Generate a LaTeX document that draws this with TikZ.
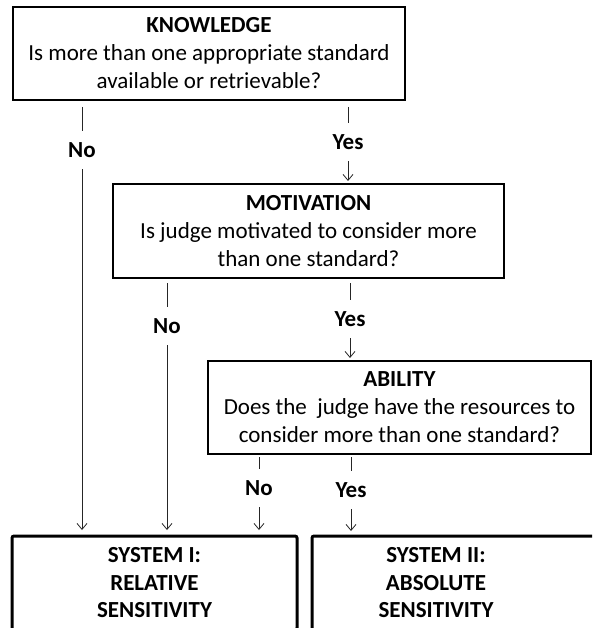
\documentclass[tikz,border=0pt]{standalone}
\usepackage{fontspec}
\setmainfont{Carlito}
\usetikzlibrary{arrows.meta}
\begin{document}
\begin{tikzpicture}[x=1pt,y=-1pt,
  txt/.style={font=\fontsize{23}{28}\selectfont},
  qbox/.style={draw=black,line width=2pt,outer sep=0pt,inner sep=0pt,align=center,txt},
  sbox/.style={draw=black,line width=3pt,outer sep=0pt,inner sep=0pt,rounded corners=2pt},
  lab/.style={font=\fontsize{23}{26}\selectfont\bfseries,inner sep=0pt,minimum height=38pt},
  conn/.style={draw=black!85,line width=0.8pt},
  arr/.style={conn,-{Straight Barb[length=6pt,width=10pt]}}
]
\useasboundingbox (0,0) rectangle (592,628);
\clip (0,0) rectangle (592,628);
\fill[white] (0,0) rectangle (592,628);

% question boxes
\node[qbox,minimum width=392pt,minimum height=93pt] (know) at (209,53.5)
  {\textbf{KNOWLEDGE}\\Is more than one appropriate standard\\available or retrievable?};
\node[qbox,minimum width=391pt,minimum height=94pt] (moti) at (308.5,231)
  {\textbf{MOTIVATION}\\Is judge motivated to consider more\\than one standard?};
\node[qbox,minimum width=383pt,minimum height=93pt] (abil) at (399.5,407.5)
  {\textbf{ABILITY}\\Does the \ judge have the resources to\\consider more than one standard?};

% outcome boxes
\node[sbox,minimum width=285pt,minimum height=94pt] (sys1) at (154.5,583) {};
\node[align=center,font=\fontsize{23}{27.5}\selectfont\bfseries] (sys1t) at (154.5,583)
  {SYSTEM I:\\RELATIVE\\SENSITIVITY};
\node[sbox,minimum width=300pt,minimum height=94pt] (sys2) at (462,583) {};
\node[align=center,font=\fontsize{23}{27.5}\selectfont\bfseries] (sys2t) at (436,583)
  {SYSTEM II:\\ABSOLUTE\\SENSITIVITY};

% labels
\node[lab] (kno) at (82,150) {No};
\node[lab] (kyes) at (348,142) {Yes};
\node[lab] (mno) at (167,326) {No};
\node[lab] (myes) at (350,319) {Yes};
\node[lab] (ano) at (259,488) {No};
\node[lab] (ayes) at (351,490) {Yes};

% connectors
\draw[conn,shorten <=7pt] (know.south -| kno) -- (kno);
\draw[arr,shorten >=6pt] (kno) -- (sys1.north -| kno);
\draw[conn,shorten <=7pt] (know.south -| kyes) -- (kyes);
\draw[arr,shorten >=3pt] (kyes) -- (moti.north -| kyes);
\draw[conn,shorten <=5pt] (moti.south -| mno) -- (mno);
\draw[arr,shorten >=6pt] (mno) -- (sys1.north -| mno);
\draw[conn,shorten <=5pt] (moti.south -| myes) -- (myes);
\draw[arr,shorten >=3pt] (myes) -- (abil.north -| myes);
\draw[conn,shorten <=3pt] (abil.south -| ano) -- (ano);
\draw[arr,shorten >=6pt] (ano) -- (sys1.north -| ano);
\draw[conn,shorten <=3pt] (abil.south -| ayes) -- (ayes);
\draw[arr,shorten >=5pt] (ayes) -- (sys2.north -| ayes);
\end{tikzpicture}
\end{document}
